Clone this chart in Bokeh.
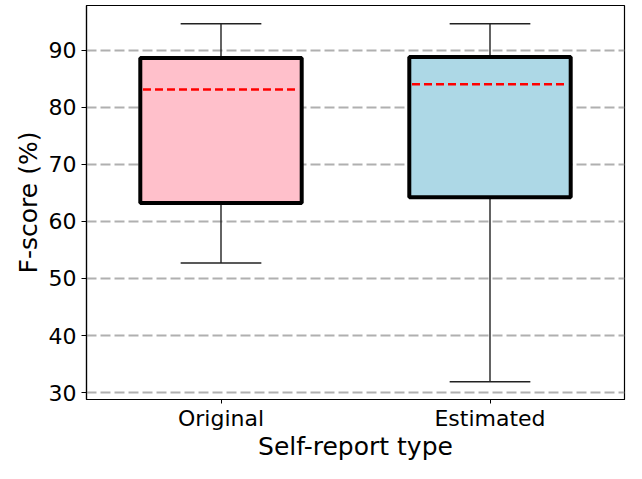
from bokeh.plotting import figure
from bokeh.models import Range1d, FixedTicker
from bokeh.embed import file_html
from bokeh.resources import INLINE

# ---- data ----
categories = ["Original", "Estimated"]
whisker_low = [52.7, 31.9]
q1 = [63.2, 64.2]
median = [83.1, 84.0]
q3 = [88.6, 88.8]
whisker_high = [94.6, 94.6]
box_colors = ["#FFC0CB", "#ADD8E6"]
y_ticks = [30, 40, 50, 60, 70, 80, 90]

positions = list(range(1, len(categories) + 1))
box_w = 0.6
cap_w = 0.3

p = figure(width=626, height=463, output_backend="svg", toolbar_location=None,
           x_range=Range1d(0.5, 2.5), y_range=Range1d(28.8, 97.8),
           min_border_left=86, min_border_right=2, min_border_top=5, min_border_bottom=0)

p.background_fill_color = "white"
p.border_fill_color = "white"
p.outline_line_color = "black"
p.outline_line_width = 1.2
p.outline_line_alpha = 1

# grid
p.xgrid.visible = False
p.ygrid.grid_line_color = "#b0b0b0"
p.ygrid.grid_line_width = 2.2
p.ygrid.grid_line_dash = "10 4"
p.ygrid.ticker = FixedTicker(ticks=y_ticks)

# whiskers
p.segment(x0=positions, x1=positions, y0=q3, y1=whisker_high, line_color="#222222", line_width=1.4)
p.segment(x0=positions, x1=positions, y0=q1, y1=whisker_low, line_color="#222222", line_width=1.4)
# caps
p.segment(x0=[x - cap_w / 2 for x in positions], x1=[x + cap_w / 2 for x in positions],
          y0=whisker_high, y1=whisker_high, line_color="#222222", line_width=1.4)
p.segment(x0=[x - cap_w / 2 for x in positions], x1=[x + cap_w / 2 for x in positions],
          y0=whisker_low, y1=whisker_low, line_color="#222222", line_width=1.4)

# boxes
p.vbar(x=positions, width=box_w, bottom=q1, top=q3, fill_color=box_colors,
       line_color="black", line_width=4)

# medians
p.segment(x0=[x - box_w / 2 + 0.01 for x in positions], x1=[x + box_w / 2 - 0.01 for x in positions],
          y0=median, y1=median, line_color="red", line_width=2.5, line_dash="8 4")

# axes
p.xaxis.ticker = FixedTicker(ticks=positions)
p.xaxis.major_label_overrides = {x: c for x, c in zip(positions, categories)}
p.yaxis.ticker = FixedTicker(ticks=y_ticks)

for ax in (p.xaxis[0], p.yaxis[0]):
    ax.axis_line_color = "black"
    ax.axis_line_width = 1.2
    ax.major_tick_line_color = "black"
    ax.major_tick_out = 5
    ax.major_tick_in = 0
    ax.minor_tick_line_color = None
    ax.major_label_text_font = "DejaVu Sans"
    ax.major_label_text_font_size = "22px"
    ax.major_label_text_color = "black"
    ax.axis_label_text_font = "DejaVu Sans"
    ax.axis_label_text_font_size = "25px"
    ax.axis_label_text_font_style = "normal"
    ax.axis_label_text_color = "black"

p.xaxis.axis_label = "Self-report type"
p.yaxis.axis_label = "F-score (%)"
p.xaxis.major_tick_out = 4
p.xaxis.major_label_standoff = 2
p.xaxis.axis_label_standoff = -2
p.yaxis.major_label_standoff = 5
p.yaxis.axis_label_standoff = 3

open("out.html", "w").write(file_html(p, INLINE))
